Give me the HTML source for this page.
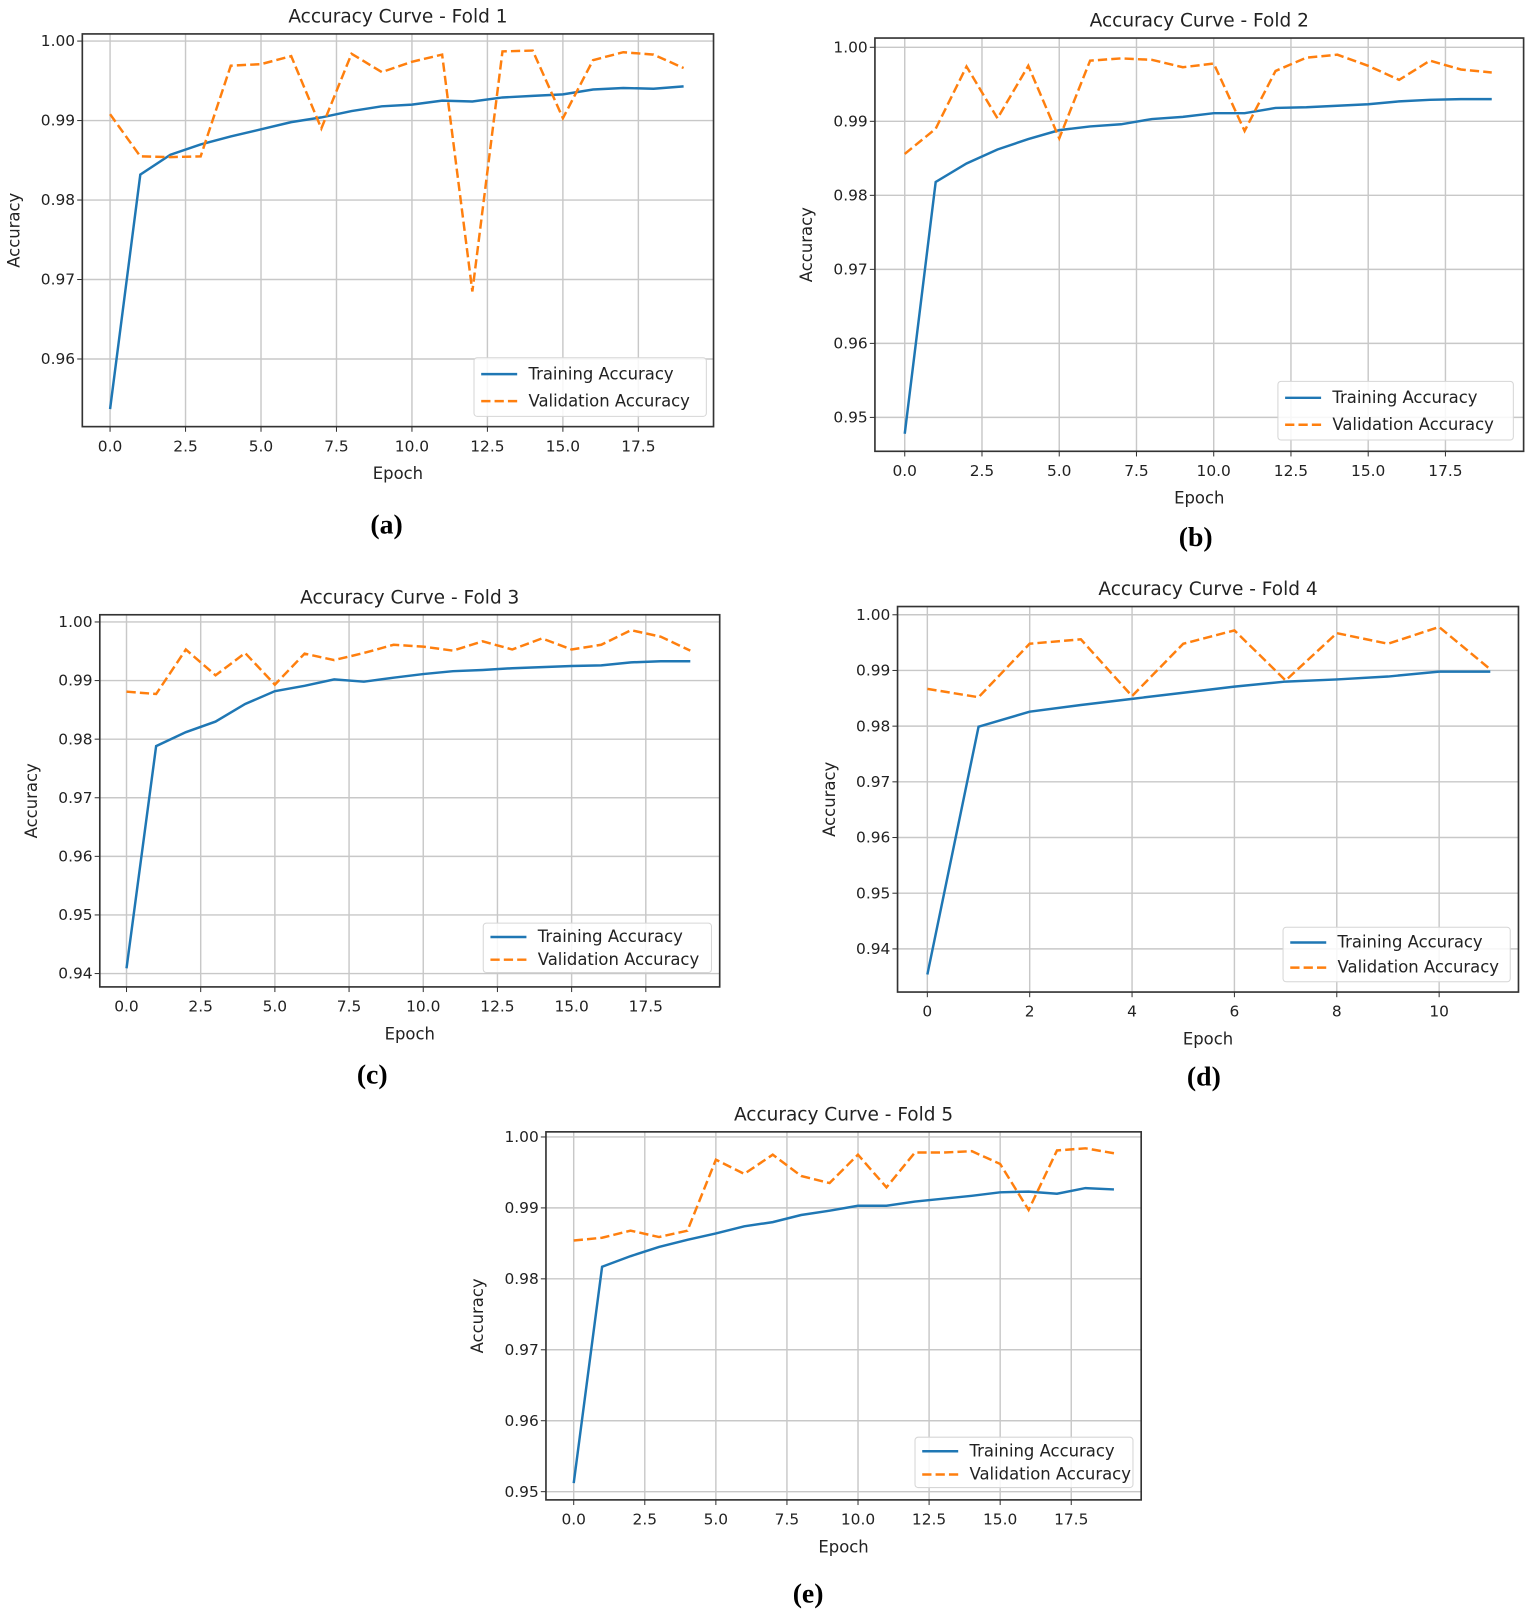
<!DOCTYPE html>
<html><head><meta charset="utf-8"><style>
html,body{margin:0;padding:0;background:#fff;}
svg{display:block;}
text{font-family:"DejaVu Sans","Liberation Sans",sans-serif;fill:#222;}
.lbl{font-family:"Liberation Serif",serif;font-weight:bold;font-size:27px;fill:#000;}
</style></head><body>
<svg id="fig" width="1535" height="1614" viewBox="0 0 1493 1570" xmlns="http://www.w3.org/2000/svg"></svg>
<script>
const fold1Train=[0.9537,0.9832,0.9857,0.9870,0.9880,0.9889,0.9898,0.9904,0.9912,0.9918,0.9920,0.9925,0.9924,0.9929,0.9931,0.9933,0.9939,0.9941,0.9940,0.9943];
const fold1Val=[0.9908,0.9855,0.9854,0.9855,0.9969,0.9971,0.9981,0.9890,0.9984,0.9961,0.9974,0.9983,0.9685,0.9987,0.9988,0.9903,0.9976,0.9986,0.9983,0.9966];
const fold2Train=[0.9478,0.9818,0.9843,0.9862,0.9876,0.9888,0.9893,0.9896,0.9903,0.9906,0.9911,0.9911,0.9918,0.9919,0.9921,0.9923,0.9927,0.9929,0.9930,0.9930];
const fold2Val=[0.9856,0.9890,0.9974,0.9904,0.9975,0.9877,0.9982,0.9985,0.9983,0.9973,0.9978,0.9887,0.9968,0.9986,0.9990,0.9975,0.9956,0.9982,0.9970,0.9966];
const fold3Train=[0.9409,0.9788,0.9812,0.9830,0.9860,0.9882,0.9891,0.9902,0.9898,0.9905,0.9911,0.9916,0.9918,0.9921,0.9923,0.9925,0.9926,0.9931,0.9933,0.9933];
const fold3Val=[0.9881,0.9877,0.9953,0.9909,0.9947,0.9893,0.9946,0.9935,0.9947,0.9961,0.9958,0.9951,0.9967,0.9953,0.9972,0.9953,0.9961,0.9986,0.9975,0.9951];
const fold4Train=[0.9354,0.9799,0.9826,0.9838,0.9849,0.9860,0.9871,0.9880,0.9884,0.9889,0.9898,0.9898];
const fold4Val=[0.9867,0.9852,0.9948,0.9956,0.9854,0.9948,0.9972,0.9882,0.9967,0.9948,0.9978,0.9902];
const fold5Train=[0.9512,0.9817,0.9832,0.9845,0.9855,0.9864,0.9874,0.9880,0.9890,0.9896,0.9903,0.9903,0.9909,0.9913,0.9917,0.9922,0.9923,0.9920,0.9928,0.9926];
const fold5Val=[0.9854,0.9858,0.9868,0.9859,0.9868,0.9968,0.9948,0.9975,0.9945,0.9935,0.9975,0.9929,0.9978,0.9978,0.9980,0.9962,0.9897,0.9981,0.9984,0.9977];
const xTicks20=[0,2.5,5,7.5,10,12.5,15,17.5];
const xTickLabels20=["0.0","2.5","5.0","7.5","10.0","12.5","15.0","17.5"];
const xTicks12=[0,2,4,6,8,10];
const xTickLabels12=["0","2","4","6","8","10"];
const yTicks5=[0.96,0.97,0.98,0.99,1.00];
const yTicks6=[0.95,0.96,0.97,0.98,0.99,1.00];
const yTicks7=[0.94,0.95,0.96,0.97,0.98,0.99,1.00];

const NS="http://www.w3.org/2000/svg";
const svg=document.getElementById('fig');
function mk(tag,attrs,parent){const e=document.createElementNS(NS,tag);for(const k in attrs)e.setAttribute(k,attrs[k]);(parent||svg).appendChild(e);return e;}

function drawPanel(p){
  const g=mk('g',{});
  
  
  const sx=v=>p.L+(v-p.xd[0])/(p.xd[1]-p.xd[0])*(p.R-p.L);
  const sy=v=>p.B-(v-p.yd[0])/(p.yd[1]-p.yd[0])*(p.B-p.T);
  p.xt.forEach((t,i)=>{const x=sx(t);
    const gl=mk('line',{x1:x,x2:x,y1:p.T,y2:p.B,stroke:'#c8c8c8','stroke-width':1.4},g);
    
    mk('line',{x1:x,x2:x,y1:p.B,y2:p.B+5,stroke:'#333','stroke-width':1},g);
    const tx=mk('text',{x:x,y:p.B+24,'text-anchor':'middle','font-size':15},g);tx.textContent=p.xl[i];
    
  });
  p.yt.forEach(t=>{const y=sy(t);
    const gl=mk('line',{x1:p.L,x2:p.R,y1:y,y2:y,stroke:'#c8c8c8','stroke-width':1.4},g);
    
    mk('line',{x1:p.L-5,x2:p.L,y1:y,y2:y,stroke:'#333','stroke-width':1},g);
    const tx=mk('text',{x:p.L-7,y:y+5,'text-anchor':'end','font-size':15},g);tx.textContent=t.toFixed(2);
    
  });
  const pts=a=>a.map((v,i)=>sx(i).toFixed(1)+','+sy(v).toFixed(1)).join(' ');
  const tr=mk('polyline',{points:pts(p.train),fill:'none',stroke:'#1f77b4','stroke-width':2.4},g);
  
  const va=mk('polyline',{points:pts(p.val),fill:'none',stroke:'#ff7f0e','stroke-width':2.4,'stroke-dasharray':'9,4'},g);
  
  const fr=mk('rect',{x:p.L,y:p.T,width:p.R-p.L,height:p.B-p.T,fill:'none',stroke:'#333','stroke-width':1.6},g);
  
  const ti=mk('text',{x:(p.L+p.R)/2,y:p.T-11,'text-anchor':'middle','font-size':18},g);ti.textContent=p.title;
  
  const xl=mk('text',{x:(p.L+p.R)/2,y:p.B+51,'text-anchor':'middle','font-size':16},g);xl.textContent='Epoch';
  
  const yc=(p.T+p.B)/2, yx=p.L-61;
  const yl=mk('text',{x:yx,y:yc,'text-anchor':'middle','font-size':16,transform:`rotate(-90 ${yx} ${yc})`},g);yl.textContent='Accuracy';
  
  const lg=mk('g',{},g);
  
  const [lx,ly,lw,lh]=p.leg;
  mk('rect',{x:lx,y:ly,width:lw,height:lh,fill:'#fff','fill-opacity':0.85,stroke:'#d6d6d6',rx:3},lg);
  const r1=ly+lh*0.28, r2=ly+lh*0.74;
  mk('line',{x1:lx+7,x2:lx+42,y1:r1,y2:r1,stroke:'#1f77b4','stroke-width':2.4},lg);
  mk('line',{x1:lx+7,x2:lx+42,y1:r2,y2:r2,stroke:'#ff7f0e','stroke-width':2.4,'stroke-dasharray':'9,4'},lg);
  const e1=mk('text',{x:lx+53,y:r1+5,'font-size':p.lf},lg);e1.textContent='Training Accuracy';
  
  const e2=mk('text',{x:lx+53,y:r2+5,'font-size':p.lf},lg);e2.textContent='Validation Accuracy';
  
  const lb=mk('text',{x:p.lab[0],y:p.lab[1],'text-anchor':'middle',class:'lbl'});lb.textContent=p.labT;
  
}

drawPanel({name:'fold-1-chart',title:'Accuracy Curve - Fold 1',L:80,R:694,T:33,B:415,xd:[-0.919,19.99],yd:[0.95149,1.0009],xt:xTicks20,xl:xTickLabels20,yt:yTicks5,train:fold1Train,val:fold1Val,leg:[461,348,226,57],lf:16,lab:[376,519],labT:'(a)'});
drawPanel({name:'fold-2-chart',title:'Accuracy Curve - Fold 2',L:851,R:1482,T:37,B:439,xd:[-0.965,20.03],yd:[0.94542,1.00125],xt:xTicks20,xl:xTickLabels20,yt:yTicks6,train:fold2Train,val:fold2Val,leg:[1243,371,229,57],lf:16,lab:[1163,531],labT:'(b)'});
drawPanel({name:'fold-3-chart',title:'Accuracy Curve - Fold 3',L:97,R:700,T:598,B:960,xd:[-0.90,19.99],yd:[0.93772,1.00123],xt:xTicks20,xl:xTickLabels20,yt:yTicks7,train:fold3Train,val:fold3Val,leg:[470,898,222,48],lf:16,lab:[362,1054],labT:'(c)'});
drawPanel({name:'fold-4-chart',title:'Accuracy Curve - Fold 4',L:873,R:1477,T:590,B:965,xd:[-0.582,11.55],yd:[0.93225,1.00148],xt:xTicks12,xl:xTickLabels12,yt:yTicks7,train:fold4Train,val:fold4Val,leg:[1248,902,221,53],lf:16,lab:[1171,1056],labT:'(d)'});
drawPanel({name:'fold-5-chart',title:'Accuracy Curve - Fold 5',L:531,R:1110,T:1101,B:1459,xd:[-0.976,19.96],yd:[0.94884,1.00072],xt:xTicks20,xl:xTickLabels20,yt:yTicks6,train:fold5Train,val:fold5Val,leg:[890,1398,212,49],lf:16,lab:[786,1559],labT:'(e)'});
</script>
</body></html>
